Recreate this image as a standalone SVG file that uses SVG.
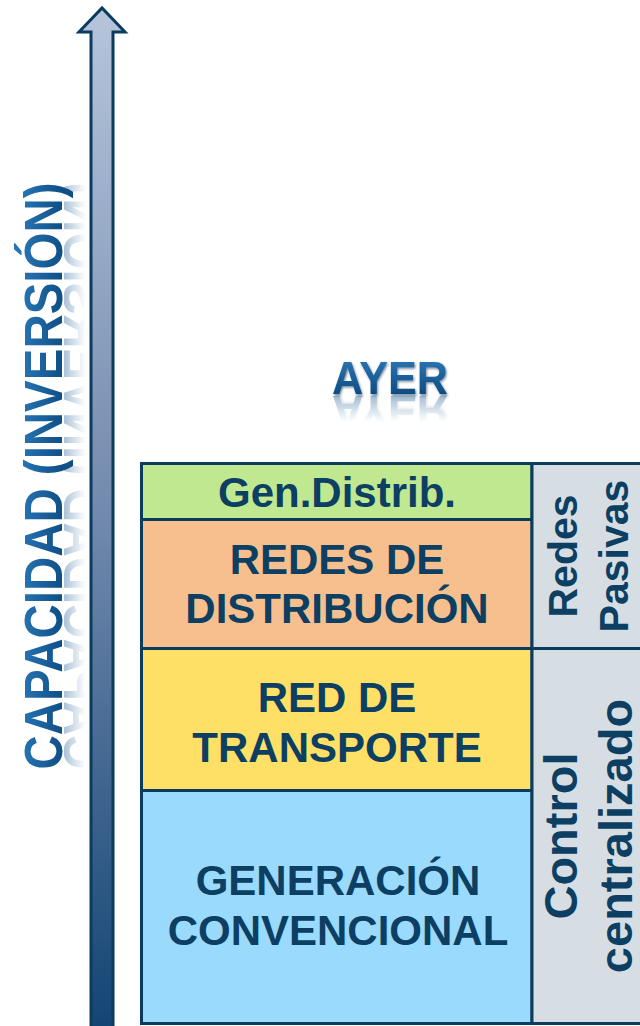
<svg xmlns="http://www.w3.org/2000/svg" xmlns:xlink="http://www.w3.org/1999/xlink" width="640" height="1026" viewBox="0 0 640 1026">
  <style>
    .box { stroke: #0b3c5e; stroke-width: 3; }
    .lbl { font-family: "Liberation Sans", Arial, sans-serif; font-weight: bold; fill: #0d3f63; text-anchor: middle; }
    .big { font-size: 42px; }
    .wa { font-family: "Liberation Sans", Arial, sans-serif; font-weight: bold; text-anchor: middle; }
  </style>
  <defs>
    <linearGradient id="shaft" x1="0" y1="0" x2="0" y2="1">
      <stop offset="0" stop-color="#b6c5db"/>
      <stop offset="0.5" stop-color="#7189ad"/>
      <stop offset="1" stop-color="#134574"/>
    </linearGradient>
    <linearGradient id="blueTxt" gradientUnits="userSpaceOnUse" x1="0" y1="-40" x2="0" y2="0">
      <stop offset="0" stop-color="#2774b4"/>
      <stop offset="1" stop-color="#0f4f86"/>
    </linearGradient>
    <linearGradient id="ayerTxt" gradientUnits="userSpaceOnUse" x1="0" y1="360" x2="0" y2="394">
      <stop offset="0" stop-color="#2a74b2"/>
      <stop offset="1" stop-color="#0f4c82"/>
    </linearGradient>
    <linearGradient id="fadeV" gradientUnits="userSpaceOnUse" x1="64" y1="0" x2="86" y2="0">
      <stop offset="0" stop-color="#ffffff" stop-opacity="0.35"/>
      <stop offset="1" stop-color="#ffffff" stop-opacity="0"/>
    </linearGradient>
    <linearGradient id="fadeA" gradientUnits="userSpaceOnUse" x1="0" y1="395" x2="0" y2="422">
      <stop offset="0" stop-color="#ffffff" stop-opacity="0.4"/>
      <stop offset="1" stop-color="#ffffff" stop-opacity="0"/>
    </linearGradient>
    <mask id="maskV" maskUnits="userSpaceOnUse" x="0" y="0" width="640" height="1026">
      <rect x="64" y="150" width="30" height="650" fill="url(#fadeV)"/>
    </mask>
    <mask id="maskA" maskUnits="userSpaceOnUse" x="0" y="0" width="640" height="1026">
      <rect x="300" y="395" width="180" height="40" fill="url(#fadeA)"/>
    </mask>
    <filter id="shadow" x="-10%" y="-10%" width="120%" height="130%">
      <feDropShadow dx="1" dy="1.5" stdDeviation="0.8" flood-color="#0a3558" flood-opacity="0.6"/>
    </filter>
  </defs>

  <rect width="640" height="1026" fill="#ffffff"/>

  <g id="connectors">
    <path id="axis-arrow" d="M91,1028 L91,32 L79,32 L102,8 L125,32 L113,32 L113,1028" fill="url(#shaft)" stroke="#0b3c5e" stroke-width="3" stroke-linejoin="miter"/>
  </g>

  <g id="axis-label">
    <g mask="url(#maskV)">
      <use xlink:href="#cap-text" href="#cap-text" transform="translate(126,0) scale(-1,1)"/>
    </g>
    <text id="cap-text" class="wa" transform="translate(62,476) rotate(-90)" font-size="54" textLength="587" lengthAdjust="spacingAndGlyphs" fill="url(#blueTxt)" x="0" y="0">CAPACIDAD (INVERSIÓN)</text>
  </g>

  <g id="title">
    <g mask="url(#maskA)">
      <use xlink:href="#ayer-text" href="#ayer-text" transform="translate(0,790) scale(1,-1)"/>
    </g>
    <text id="ayer-text" class="wa" x="390" y="394" font-size="46" textLength="116" lengthAdjust="spacingAndGlyphs" fill="url(#ayerTxt)" filter="url(#shadow)">AYER</text>
  </g>

  <g id="gen-distrib">
    <rect class="box" x="141.5" y="463.5" width="390.5" height="56" fill="#bfe891"/>
    <text class="lbl big" x="337" y="507">Gen.Distrib.</text>
  </g>

  <g id="redes-distribucion">
    <rect class="box" x="141.5" y="519.5" width="390.5" height="129" fill="#f8bf8e"/>
    <text class="lbl big" x="337" y="574">REDES DE</text>
    <text class="lbl big" x="337" y="623">DISTRIBUCIÓN</text>
  </g>

  <g id="red-transporte">
    <rect class="box" x="141.5" y="648.5" width="390.5" height="142" fill="#ffe066"/>
    <text class="lbl big" x="337" y="712">RED DE</text>
    <text class="lbl big" x="337" y="762">TRANSPORTE</text>
  </g>

  <g id="generacion-convencional">
    <rect class="box" x="141.5" y="790.5" width="390.5" height="233" fill="#9adafd"/>
    <text class="lbl big" x="338" y="895">GENERACIÓN</text>
    <text class="lbl big" x="338" y="945">CONVENCIONAL</text>
  </g>

  <g id="redes-pasivas">
    <rect class="box" x="532" y="463.5" width="110" height="185" fill="#d6dee4"/>
    <text class="lbl" font-size="41" transform="translate(577,556) rotate(-90)" x="0" y="0">Redes</text>
    <text class="lbl" font-size="41" transform="translate(628,556) rotate(-90)" x="0" y="0">Pasivas</text>
  </g>

  <g id="control-centralizado">
    <rect class="box" x="532" y="648.5" width="110" height="375" fill="#d6dee4"/>
    <text class="lbl" font-size="47" transform="translate(577,836) rotate(-90)" x="0" y="0">Control</text>
    <text class="lbl" font-size="47" transform="translate(632,836) rotate(-90)" x="0" y="0">centralizado</text>
  </g>
</svg>
